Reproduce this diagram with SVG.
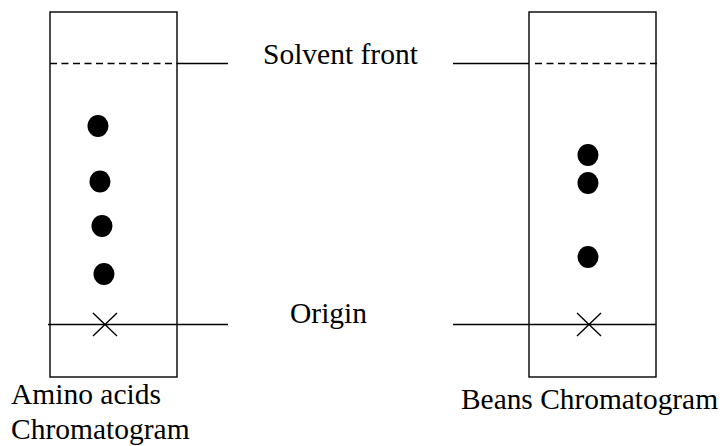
<svg xmlns="http://www.w3.org/2000/svg" width="722" height="446" viewBox="0 0 722 446">
<style>
.ln{stroke:#000;stroke-width:1.4;fill:none}
.dash{stroke:#000;stroke-width:1.4;stroke-dasharray:7 4.5;fill:none}
.dot{fill:#000}
.t{font-family:"Liberation Serif","Times New Roman",serif;font-size:29.5px;fill:#000}
</style>
<rect width="722" height="446" fill="#fff"/>
<g id="amino">
<rect class="ln" x="50" y="12" width="127" height="365"/>
<line class="dash" x1="50" y1="63.5" x2="177" y2="63.5"/>
<ellipse class="dot" cx="98" cy="126" rx="10.5" ry="11"/>
<ellipse class="dot" cx="100" cy="181.5" rx="10.5" ry="11"/>
<ellipse class="dot" cx="102" cy="226" rx="10.5" ry="11"/>
<ellipse class="dot" cx="104" cy="274" rx="10.5" ry="11"/>
<path class="ln" d="M93 313 L117 336 M117 313 L93 336"/>
<text class="t" x="11" y="404">Amino acids</text>
<text class="t" x="11" y="439">Chromatogram</text>
</g>
<g id="beans">
<rect class="ln" x="529" y="12" width="127" height="365"/>
<line class="dash" x1="535" y1="63.5" x2="661" y2="63.5"/>
<ellipse class="dot" cx="588" cy="155" rx="10.5" ry="11"/>
<ellipse class="dot" cx="588" cy="183" rx="10.5" ry="11"/>
<ellipse class="dot" cx="588" cy="257" rx="10.5" ry="11"/>
<path class="ln" d="M577 313 L601 336 M601 313 L577 336"/>
<text class="t" x="461" y="409" textLength="257" lengthAdjust="spacingAndGlyphs">Beans Chromatogram</text>
</g>
<g id="labels">
<text class="t" x="263" y="64">Solvent front</text>
<text class="t" x="290" y="323">Origin</text>
</g>
<g id="connectors">
<line class="ln" x1="177" y1="63.5" x2="228" y2="63.5"/>
<line class="ln" x1="453" y1="63.5" x2="529" y2="63.5"/>
<line class="ln" x1="48" y1="324.5" x2="228" y2="324.5"/>
<line class="ln" x1="453" y1="324.5" x2="656" y2="324.5"/>
</g>
</svg>
